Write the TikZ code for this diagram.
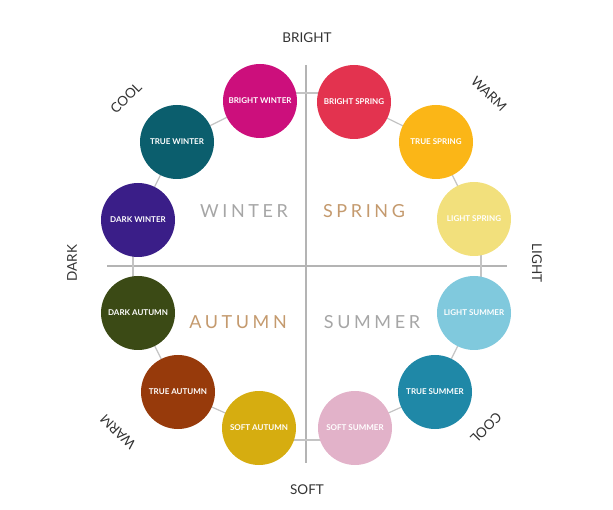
\documentclass[tikz,border=0pt]{standalone}
\usepackage{fontspec}
\setmainfont{Lato}
\usetikzlibrary{backgrounds}
\definecolor{cBW}{HTML}{CC0F7C}
\definecolor{cTW}{HTML}{0B5E6D}
\definecolor{cDW}{HTML}{3A1E88}
\definecolor{cBS}{HTML}{E3334F}
\definecolor{cTS}{HTML}{FBB617}
\definecolor{cLS}{HTML}{F2E07C}
\definecolor{cLSu}{HTML}{80C9DD}
\definecolor{cTSu}{HTML}{1F88A7}
\definecolor{cSSu}{HTML}{E2B2C9}
\definecolor{cDA}{HTML}{3B4A15}
\definecolor{cTA}{HTML}{973A0B}
\definecolor{cSA}{HTML}{D6AD10}
\definecolor{axisgray}{HTML}{B4B4B4}
\definecolor{conngray}{HTML}{C4C4C4}
\definecolor{labelgray}{HTML}{333333}
\definecolor{seasongray}{HTML}{A6A6A6}
\definecolor{seasontan}{HTML}{C49A6E}
\newfontfamily\spacedfont[LetterSpace=20]{Lato}
\tikzset{
  season/.style={circle, minimum size=74pt, inner sep=0pt, text=white,
    font=\fontsize{8}{9}\selectfont\bfseries},
  axisline/.style={draw=axisgray, line width=1.8pt},
  conn/.style={draw=conngray, line width=1.2pt},
  dirlabel/.style={text=labelgray, font=\fontsize{13.5}{14}\selectfont, inner sep=0pt},
  quad/.style={font=\fontsize{18}{20}\selectfont\spacedfont, inner sep=0pt}
}
\begin{document}
\begin{tikzpicture}[x=1pt,y=-1pt]
\useasboundingbox (0,0) rectangle (613,510);
% axis end points
\coordinate (vt) at (306,65);
\coordinate (vb) at (306,463);
\coordinate (hl) at (107,266);
\coordinate (hr) at (507,266);
% circles
\node[season, fill=cBW] (bw) at (260,101) {BRIGHT WINTER};
\node[season, fill=cTW] (tw) at (177,142) {TRUE WINTER};
\node[season, fill=cDW] (dw) at (138,220) {DARK WINTER};
\node[season, fill=cBS] (bs) at (354,102) {BRIGHT SPRING};
\node[season, fill=cTS] (ts) at (436,142) {TRUE SPRING};
\node[season, fill=cLS] (ls) at (474,219) {LIGHT SPRING};
\node[season, fill=cLSu] (lsu) at (474,313) {LIGHT SUMMER};
\node[season, fill=cTSu] (tsu) at (435,392) {TRUE SUMMER};
\node[season, fill=cSSu] (ssu) at (355,428) {SOFT SUMMER};
\node[season, fill=cDA] (da) at (138,313) {DARK AUTUMN};
\node[season, fill=cTA] (ta) at (178,392) {TRUE AUTUMN};
\node[season, fill=cSA] (sa) at (259,428) {SOFT AUTUMN};
% connector end points on the axes
\coordinate (bwv) at (306,93);
\coordinate (bwc) at (260,93);
\coordinate (bsv) at (306,93);
\coordinate (bsc) at (354,93);
\coordinate (dwh) at (133,266);
\coordinate (dwc) at (133,220);
\coordinate (dah) at (133,266);
\coordinate (dac) at (133,313);
\coordinate (lsh) at (481,266);
\coordinate (lsc) at (481,219);
\coordinate (lsuh) at (481,266);
\coordinate (lsuc) at (481,313);
\coordinate (sav) at (306,440);
\coordinate (sac) at (259,440);
\coordinate (ssuv) at (306,440);
\coordinate (ssuc) at (355,440);
\begin{scope}[on background layer]
\draw[axisline] (vt) -- (vb);
\draw[axisline] (hl) -- (hr);
\draw[conn] (bw.center) -- (tw.center) -- (dw.center);
\draw[conn] (bs.center) -- (ts.center) -- (ls.center);
\draw[conn] (lsu.center) -- (tsu.center) -- (ssu.center);
\draw[conn] (da.center) -- (ta.center) -- (sa.center);
\draw[conn] (bwc) -- (bwv);
\draw[conn] (bsc) -- (bsv);
\draw[conn] (dwc) -- (dwh);
\draw[conn] (dac) -- (dah);
\draw[conn] (lsc) -- (lsh);
\draw[conn] (lsuc) -- (lsuh);
\draw[conn] (sac) -- (sav);
\draw[conn] (ssuc) -- (ssuv);
\end{scope}
% direction labels
\node[dirlabel] (bright) at (307,38) {BRIGHT};
\node[dirlabel] (soft) at (307,490) {SOFT};
\node[dirlabel, rotate=90] (dark) at (72,263) {DARK};
\node[dirlabel, rotate=-90] (light) at (537,263) {LIGHT};
\node[dirlabel, rotate=45] (cooltl) at (126,98) {COOL};
\node[dirlabel, rotate=-45] (warmtr) at (489,94) {WARM};
\node[dirlabel, rotate=135] (warmbl) at (118,432) {WARM};
\node[dirlabel, rotate=225] (coolbr) at (486,428) {COOL};
% quadrant labels
\node[quad, text=seasongray] (winter) at (244,211) {WINTER};
\node[quad, text=seasontan] (spring) at (364,211) {SPRING};
\node[quad, text=seasontan] (autumn) at (238,322) {AUTUMN};
\node[quad, text=seasongray] (summer) at (372,322) {SUMMER};
\end{tikzpicture}
\end{document}
